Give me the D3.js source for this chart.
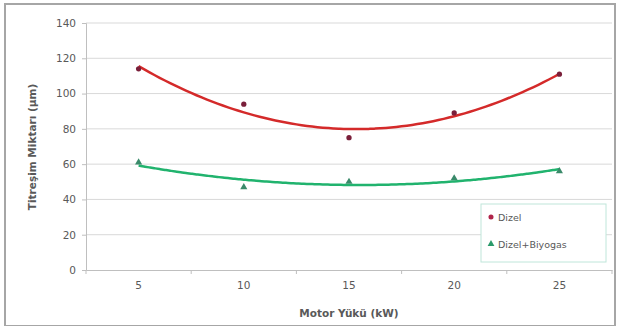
<!DOCTYPE html>
<html>
<head>
<meta charset="utf-8">
<script src="https://cdn.jsdelivr.net/npm/d3@7"></script>
<style>
  body { margin: 0; background: #fff; }
  text { font-family: "DejaVu Sans", Verdana, sans-serif; fill: #595959; }
</style>
</head>
<body>
<div id="chart"></div>
<script>
const loads = [5, 10, 15, 20, 25];
const dizel = [114, 94, 75, 89, 111];
const biyogas = [61, 47, 50, 52, 56];
const yTicks = [0, 20, 40, 60, 80, 100, 120, 140];
const seriesNames = ['Dizel', 'Dizel+Biyogas'];

let width = 619, height = 326,
    margin = {left: 86, top: 23, right: 7, bottom: 56},
    plotW = width - margin.left - margin.right,
    plotH = height - margin.top - margin.bottom;

let svg = d3.select('#chart').append('svg')
    .attr('width', width)
    .attr('height', height);

// outer chart border
svg.append('rect')
    .attr('x', 5).attr('y', 4)
    .attr('width', 610).attr('height', 322)
    .attr('fill', 'none')
    .attr('stroke', '#a6a6a6')
    .attr('stroke-width', 2);

let g = svg.append('g')
    .attr('transform', `translate(${margin.left}, ${margin.top})`);

let x = d3.scaleBand()
    .domain(loads)
    .range([0, plotW]);

let y = d3.scaleLinear()
    .domain([0, 140])
    .range([plotH, 0]);

// gridlines
g.append('g')
    .selectAll('line')
    .data(yTicks.slice(1))
    .join('line')
    .attr('x1', 0).attr('x2', plotW)
    .attr('y1', d => y(d)).attr('y2', d => y(d))
    .attr('stroke', '#d9d9d9');

// y axis
let yAxis = g.append('g')
    .call(d3.axisLeft(y).tickValues(yTicks).tickSize(4).tickPadding(6));
yAxis.select('.domain').attr('stroke', '#bfbfbf');
yAxis.selectAll('.tick line').attr('stroke', '#bfbfbf');
yAxis.selectAll('text').attr('font-size', 10.5).attr('fill', '#595959');

// x axis
let xAxis = g.append('g')
    .attr('transform', `translate(0, ${plotH})`)
    .call(d3.axisBottom(x).tickSize(0).tickPadding(12));
xAxis.select('.domain').attr('stroke', '#bfbfbf');
xAxis.selectAll('text').attr('font-size', 10.5).attr('fill', '#595959');
// tick marks between categories
xAxis.selectAll('.sep')
    .data(d3.range(loads.length + 1))
    .join('line')
    .attr('x1', i => i * x.step()).attr('x2', i => i * x.step())
    .attr('y1', 0).attr('y2', 4)
    .attr('stroke', '#bfbfbf');

// polynomial (order 2) trendline, least squares on the data
function quadFit(ys) {
    let n = ys.length, t = d3.range(n).map(i => i - (n - 1) / 2);
    let mean = d3.mean(ys);
    let sT2 = d3.sum(t, v => v * v);
    let b = d3.sum(t, (v, i) => v * ys[i]) / sT2;
    let q = t.map(v => v * v - sT2 / n);
    let c = d3.sum(q, (v, i) => v * ys[i]) / d3.sum(q, v => v * v);
    return tt => mean + b * tt + c * (tt * tt - sT2 / n);
}

function trend(ys) {
    let f = quadFit(ys);
    let n = ys.length;
    let pts = d3.range(0, n - 1 + 0.001, 0.05).map(i => {
        let px = x(loads[0]) + x.bandwidth() / 2 + i * x.step();
        return [px, y(f(i - (n - 1) / 2))];
    });
    return d3.line().curve(d3.curveBasis)(pts);
}

const series = [
    {name: seriesNames[0], values: dizel, line: '#d42a2a', mark: '#7a1f3a', shape: d3.symbolCircle},
    {name: seriesNames[1], values: biyogas, line: '#21b36e', mark: '#3a8a6a', shape: d3.symbolTriangle}
];

series.forEach(s => {
    g.append('path')
        .attr('d', trend(s.values))
        .attr('fill', 'none')
        .attr('stroke', s.line)
        .attr('stroke-width', 2.5);

    g.append('g')
        .selectAll('path')
        .data(s.values)
        .join('path')
        .attr('transform', (d, i) => `translate(${x(loads[i]) + x.bandwidth() / 2}, ${y(d)})`)
        .attr('d', d3.symbol().type(s.shape).size(22))
        .attr('fill', s.mark);
});

// legend
let legend = svg.append('g')
    .attr('transform', 'translate(481, 204)');
legend.append('rect')
    .attr('width', 125).attr('height', 58)
    .attr('fill', '#fff')
    .attr('stroke', '#bfe6da');
legend.selectAll('g')
    .data(series)
    .join('g')
    .attr('transform', (d, i) => `translate(10, ${13 + i * 27})`)
    .each(function (d) {
        let item = d3.select(this);
        item.append('path')
            .attr('d', d3.symbol().type(d.shape).size(20))
            .attr('fill', d.name === 'Dizel' ? '#b0244a' : '#2a9a6a');
        item.append('text')
            .attr('x', 7).attr('y', 3.5)
            .attr('font-size', 9.5)
            .text(d.name);
    });

// axis titles
svg.append('text')
    .attr('transform', 'translate(36, 147) rotate(-90)')
    .attr('text-anchor', 'middle')
    .attr('font-size', 10.5)
    .attr('font-weight', 'bold')
    .attr('fill', '#404040')
    .text('Titreşim Miktarı (µm)');

svg.append('text')
    .attr('x', 349).attr('y', 317)
    .attr('text-anchor', 'middle')
    .attr('font-size', 10.5)
    .attr('font-weight', 'bold')
    .attr('fill', '#404040')
    .text('Motor Yükü (kW)');
</script>
</body>
</html>
